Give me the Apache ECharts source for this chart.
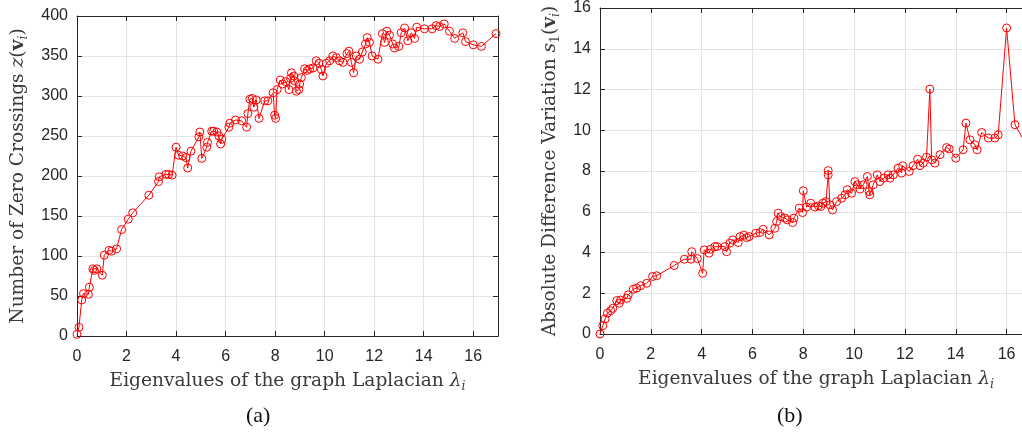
<!DOCTYPE html>
<html><head><meta charset="utf-8">
<script src="https://cdn.jsdelivr.net/npm/echarts@6/dist/echarts.min.js"></script>
<style>html,body{margin:0;padding:0;background:#fff}#c{width:1022px;height:433px}</style>
</head><body><div id="c"></div>
<script>
// (a) zero crossings vs eigenvalue
const lambdaA = [
 0, 0.08, 0.19, 0.26, 0.46, 0.5, 0.64, 0.7, 0.8, 1.02,
 1.1, 1.29, 1.4, 1.6, 1.8, 2.07, 2.25, 2.9, 3.29, 3.32,
 3.59, 3.7, 3.84, 4.0, 4.1, 4.27, 4.4, 4.47, 4.6, 4.92,
 4.96, 5.04, 5.24, 5.27, 5.44, 5.52, 5.65, 5.73, 5.8, 5.85,
 6.13, 6.17, 6.4, 6.65, 6.85, 6.9, 6.98, 7.08, 7.14, 7.24,
 7.35, 7.58, 7.71, 7.92, 7.98, 8.02, 8.08, 8.21, 8.3, 8.43,
 8.56, 8.62, 8.66, 8.75, 8.79, 8.86, 8.96, 8.99, 9.06, 9.19,
 9.3, 9.4, 9.53, 9.66, 9.77, 9.87, 9.93, 10.07, 10.2, 10.33,
 10.47, 10.6, 10.74, 10.9, 10.98, 11.08, 11.17, 11.28, 11.41, 11.52,
 11.65, 11.72, 11.81, 11.92, 12.15, 12.33, 12.42, 12.51, 12.62, 12.75,
 12.82, 13.0, 13.09, 13.23, 13.36, 13.5, 13.63, 13.72, 14.03, 14.34,
 14.5, 14.64, 14.83, 15.04, 15.25, 15.58, 15.69, 16.0, 16.33, 16.92
];
const zeroCrossings = [
 2, 11, 45, 53, 52, 61, 84, 82, 84, 76,
 101, 107, 106, 109, 133, 146, 154, 176, 193, 199,
 202, 202, 201, 236, 226, 225, 223, 210, 231, 249,
 255, 222, 236, 242, 256, 256, 255, 250, 240, 246,
 261, 266, 270, 269, 261, 278, 296, 297, 286, 295,
 272, 294, 294, 304, 276, 272, 308, 320, 315, 318,
 308, 322, 329, 325, 319, 306, 308, 315, 323, 334,
 332, 334, 335, 344, 341, 333, 325, 341, 344, 350,
 348, 344, 342, 353, 356, 342, 329, 350, 346, 355,
 365, 373, 367, 350, 346, 378, 367, 381, 376, 365,
 360, 362, 379, 385, 369, 379, 372, 386, 384, 384,
 388, 387, 390, 381, 372, 379, 368, 364, 362, 378
];
// (b) absolute difference variation vs eigenvalue
const lambdaB = [
 0, 0.11, 0.2, 0.29, 0.42, 0.5, 0.66, 0.76, 0.81, 1.05,
 1.11, 1.31, 1.44, 1.6, 1.84, 2.07, 2.23, 2.92, 3.32, 3.58,
 3.61, 3.83, 4.04, 4.1, 4.29, 4.35, 4.52, 4.61, 4.92, 4.98,
 5.11, 5.22, 5.44, 5.51, 5.66, 5.77, 5.87, 6.13, 6.29, 6.42,
 6.66, 6.88, 6.95, 7.01, 7.11, 7.28, 7.37, 7.58, 7.63, 7.84,
 7.97, 8.0, 8.13, 8.29, 8.46, 8.59, 8.69, 8.78, 8.89, 8.98,
 8.98, 9.05, 9.15, 9.31, 9.51, 9.64, 9.73, 9.9, 10.03, 10.12,
 10.23, 10.36, 10.52, 10.59, 10.62, 10.75, 10.91, 11.01, 11.17, 11.34,
 11.41, 11.54, 11.73, 11.87, 11.91, 12.17, 12.32, 12.5, 12.59, 12.72,
 12.85, 12.98, 13.05, 13.18, 13.38, 13.64, 13.74, 14.0, 14.29, 14.4,
 14.56, 14.75, 14.84, 15.02, 15.28, 15.54, 15.67, 16.0, 16.33, 16.94
];
const absDiffVariation = [
 0, 0.41, 0.74, 1.02, 1.14, 1.26, 1.64, 1.51, 1.67, 1.75,
 1.92, 2.2, 2.25, 2.37, 2.49, 2.82, 2.86, 3.36, 3.67, 3.67,
 4.04, 3.7, 2.98, 4.13, 3.97, 4.16, 4.29, 4.29, 4.29, 4.04,
 4.46, 4.62, 4.49, 4.78, 4.85, 4.73, 4.78, 4.95, 4.98, 5.14,
 4.86, 5.19, 5.52, 5.93, 5.76, 5.69, 5.6, 5.47, 5.69, 6.18,
 5.96, 7.03, 6.23, 6.42, 6.23, 6.29, 6.26, 6.42, 6.5, 7.81,
 8.02, 6.34, 6.09, 6.5, 6.67, 6.83, 7.08, 6.91, 7.48, 7.32,
 7.11, 7.32, 7.73, 6.99, 6.83, 7.32, 7.81, 7.48, 7.65, 7.81,
 7.65, 7.81, 8.14, 7.9, 8.26, 7.98, 8.26, 8.58, 8.26, 8.39,
 8.68, 12.02, 8.55, 8.39, 8.8, 9.15, 9.08, 8.63, 9.04, 10.35,
 9.53, 9.29, 9.04, 9.89, 9.62, 9.62, 9.78, 15.02, 10.27, 8.93
];
const xRange = [0, 17], xStep = 2;
const yRangeA = [0, 400], yStepA = 50;
const yRangeB = [0, 16], yStepB = 2;

const AX = '#262626', GRID = '#e3e3e3', RED = '#ff0000';
const serif = "'DejaVu Serif', 'Liberation Serif', serif";
const sans = "'Liberation Sans', Arial, sans-serif";
const TC = '#3a3a3a';
const FS = 18.6;
const rich = {
  t: {fontFamily: serif, fontSize: FS, color: TC, lineHeight: 24},
  it: {fontFamily: serif, fontSize: FS, color: TC, fontStyle: 'italic', lineHeight: 24},
  b: {fontFamily: serif, fontSize: FS, color: TC, fontWeight: 'bold', lineHeight: 24},
  sub: {fontFamily: serif, fontSize: 12.5, color: TC, fontStyle: 'italic', lineHeight: 12, verticalAlign: 'bottom'},
  subn: {fontFamily: serif, fontSize: 12.5, color: TC, lineHeight: 12, verticalAlign: 'bottom'}
};
function xAx(g, pos, name) {
  return {
    gridIndex: g, type: 'value', position: pos, min: xRange[0], max: xRange[1], interval: xStep,
    axisLine: {show: true, onZero: false, lineStyle: {color: AX, width: 1}},
    axisTick: {show: true, inside: true, length: 5, lineStyle: {color: AX}},
    axisLabel: {show: pos === 'bottom', color: AX, fontFamily: sans, fontSize: 16, margin: 13, showMaxLabel: false},
    splitLine: {show: pos === 'bottom', lineStyle: {color: GRID, width: 1}},
    name: name || '', nameLocation: 'middle', nameGap: 33, nameTextStyle: {rich: rich}
  };
}
function yAx(g, pos, range, step, name, gap) {
  return {
    gridIndex: g, type: 'value', position: pos, min: range[0], max: range[1], interval: step,
    axisLine: {show: true, onZero: false, lineStyle: {color: AX, width: 1}},
    axisTick: {show: true, inside: true, length: 5, lineStyle: {color: AX}},
    axisLabel: {show: pos === 'left', color: AX, fontFamily: sans, fontSize: 16, margin: 9},
    splitLine: {show: pos === 'left', lineStyle: {color: GRID, width: 1}},
    name: name || '', nameLocation: 'middle', nameGap: gap || 0, nameRotate: 90, nameTextStyle: {rich: rich}
  };
}
const xName = '{t|Eigenvalues of the graph Laplacian }{it|λ}{sub|i}';
const option = {
  animation: false,
  backgroundColor: '#fff',
  grid: [
    {left: 77, top: 16, width: 421, height: 320, outerBoundsMode: 'none', containLabel: false},
    {left: 600, top: 8, width: 432, height: 326, outerBoundsMode: 'none', containLabel: false}
  ],
  xAxis: [xAx(0, 'bottom', xName), xAx(0, 'top'), xAx(1, 'bottom', xName), xAx(1, 'top')],
  yAxis: [
    yAx(0, 'left', yRangeA, yStepA, '{t|Number of Zero Crossings }{it|z}{t|(}{b|v}{sub|i}{t|)}', 47),
    yAx(0, 'right', yRangeA, yStepA),
    yAx(1, 'left', yRangeB, yStepB, '{t|Absolute Difference Variation }{it|s}{subn|1}{t|(}{b|v}{sub|i}{t|)}', 38),
    yAx(1, 'right', yRangeB, yStepB)
  ],
  series: [
    {type: 'line', xAxisIndex: 0, yAxisIndex: 0, data: lambdaA.map((x, i) => [x, zeroCrossings[i]]),
     symbol: 'circle', symbolSize: 8, lineStyle: {color: RED, width: 1},
     itemStyle: {color: 'rgba(0,0,0,0)', borderColor: RED, borderWidth: 1}, silent: true},
    {type: 'line', xAxisIndex: 2, yAxisIndex: 2, data: lambdaB.map((x, i) => [x, absDiffVariation[i]]),
     symbol: 'circle', symbolSize: 8, lineStyle: {color: RED, width: 1},
     itemStyle: {color: 'rgba(0,0,0,0)', borderColor: RED, borderWidth: 1}, silent: true}
  ],
  graphic: [
    {type: 'text', left: 246, top: 405, style: {text: '(a)', font: "22px 'Liberation Serif', serif", fill: '#111'}},
    {type: 'text', left: 777, top: 405, style: {text: '(b)', font: "22px 'Liberation Serif', serif", fill: '#111'}}
  ]
};
const chart = echarts.init(document.getElementById('c'), null, {renderer: 'canvas'});
chart.setOption(option);
</script></body></html>
